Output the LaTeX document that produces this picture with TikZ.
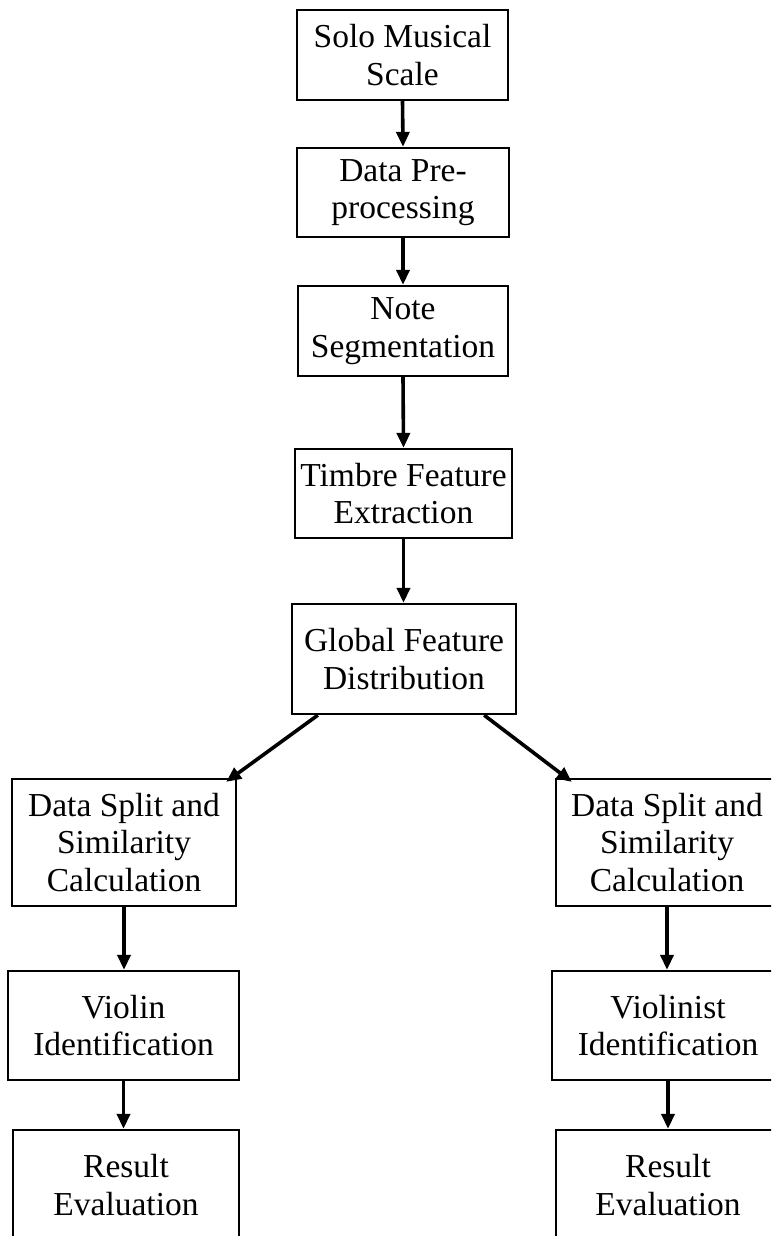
\documentclass[tikz,border=0pt]{standalone}
\usepackage{fontspec}
\setmainfont{Liberation Serif}
\usetikzlibrary{arrows.meta,calc}
\begin{document}
\begin{tikzpicture}[x=1pt,y=-1pt,
  stepbox/.style={draw=black,line width=2.3pt,align=center,inner sep=0pt,
    font=\fontsize{33.5}{37.5}\selectfont},
  flow/.style={line width=3.6pt,-{Triangle[length=15pt,width=13pt]}}]
\useasboundingbox (0,0) rectangle (771,1236);
\clip (0,0) rectangle (771,1236);
\fill[white] (0,0) rectangle (771,1236);
\node[stepbox,minimum width=211pt,minimum height=90pt] (b1) at (402.5,55) {Solo Musical\\Scale};
\node[stepbox,minimum width=212pt,minimum height=89pt] (b2) at (403,192.5) {Data Pre-\\processing};
\node[stepbox,minimum width=210pt,minimum height=90pt] (b3) at (403,331) {Note\\Segmentation};
\node[stepbox,minimum width=217pt,minimum height=89pt] (b4) at (403.5,493.5) {Timbre Feature\\Extraction};
\node[stepbox,minimum width=224pt,minimum height=110pt] (b5) at (404,659) {Global Feature\\Distribution};
\node[stepbox,minimum width=224pt,minimum height=127pt] (dsl) at (124,842.5) {Data Split and\\Similarity\\Calculation};
\node[stepbox,minimum width=222pt,minimum height=127pt] (dsr) at (667,842.5) {Data Split and\\Similarity\\Calculation};
\node[stepbox,minimum width=231pt,minimum height=109pt] (vio) at (123.5,1025.5) {Violin\\Identification};
\node[stepbox,minimum width=232pt,minimum height=109pt] (vis) at (668,1025.5) {Violinist\\Identification};
\node[stepbox,minimum width=226pt,minimum height=110pt] (rl) at (126,1185) {Result\\Evaluation};
\node[stepbox,minimum width=224pt,minimum height=110pt] (rr) at (668,1185) {Result\\Evaluation};
\draw[flow] (b1.south) -- (b2.north);
\draw[flow] (b2.south) -- (b3.north);
\draw[flow] (b3.south) -- (b4.north);
\draw[flow] (b4.south) -- (b4.south |- b5.north);
\draw[flow] ($(b5.south west)+(27,0)$) -- ($(dsl.north east)+(-11,4)$);
\draw[flow] ($(b5.south east)+(-33,0)$) -- ($(dsr.north west)+(17,4)$);
\draw[flow] (dsl.south) -- (dsl.south |- vio.north);
\draw[flow] (dsr.south) -- (dsr.south |- vis.north);
\draw[flow] (vio.south) -- (vio.south |- rl.north);
\draw[flow] (vis.south) -- (vis.south |- rr.north);
\end{tikzpicture}
\end{document}
